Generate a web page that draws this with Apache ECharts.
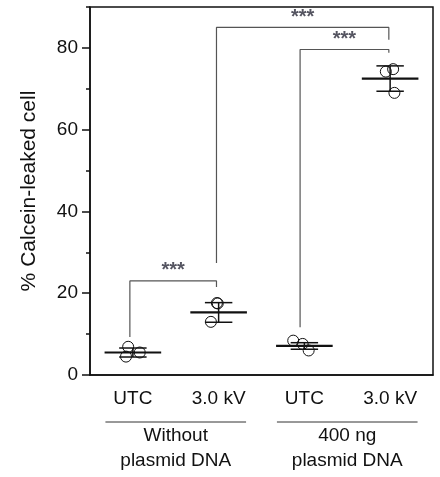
<!DOCTYPE html>
<html><head><meta charset="utf-8">
<script src="https://cdn.jsdelivr.net/npm/echarts@6/dist/echarts.min.js"></script>
<style>html,body{margin:0;padding:0;background:#fff}#c{width:440px;height:477px}</style>
</head><body><div id="c"></div>
<script>
// ---- data ----
const categories = ['UTC', '3.0 kV', 'UTC', '3.0 kV'];
const groups = ['Without\nplasmid DNA', '400 ng\nplasmid DNA'];
const means = [5.5, 15.3, 7.1, 72.5];
const sds = [1.1, 2.4, 0.8, 3.1];
const pointValues = [[6.9, 4.5, 5.5], [17.6, 17.5, 13.0], [8.4, 7.6, 6.0], [74.2, 74.8, 69.0]];
const pointJitter = [[-0.055, -0.08, 0.08], [-0.02, -0.01, -0.09], [-0.13, -0.02, 0.05], [-0.05, 0.035, 0.05]];
const bracketFrom = [-0.035, 0.975, 1.95];
const bracketTo = [0.975, 2.985, 2.985];
const bracketTop = [23.0, 85.0, 79.6];
const bracketLeftEnd = [9.3, 27.4, 11.7];
const bracketRightEnd = [21.5, 82.0, 78.8];
const bracketLabels = ['***', '***', '***'];
const yName = '% Calcein-leaked cell';

const FONT = '"Liberation Sans", Arial, sans-serif';
const INK = '#111';

const chart = echarts.init(document.getElementById('c'), null, {renderer: 'canvas'});

const scatterData = [];
pointValues.forEach((vals, i) => vals.forEach((v, j) => scatterData.push([i + pointJitter[i][j], v])));

const bracketSeries = bracketFrom.map((f, k) => ({
  type: 'line', xAxisIndex: 2, yAxisIndex: 0, symbol: 'none', silent: true,
  data: [[f, bracketLeftEnd[k]], [f, bracketTop[k]], [bracketTo[k], bracketTop[k]], [bracketTo[k], bracketRightEnd[k]]],
  lineStyle: {color: '#555', width: 1.2}, z: 3
}));

const starSeries = {
  type: 'scatter', xAxisIndex: 2, yAxisIndex: 0, symbolSize: 0, silent: true,
  data: bracketFrom.map((f, k) => [(f + bracketTo[k]) / 2, bracketTop[k]]),
  label: {
    show: true, position: 'top', distance: 0,
    formatter: p => bracketLabels[p.dataIndex],
    fontSize: 20, fontWeight: 'bold', color: '#2a2a3a', fontFamily: FONT
  }
};

const option = {
  animation: false,
  backgroundColor: '#fff',
  grid: {left: 90, right: 7, top: 7, bottom: 102, show: true, borderColor: INK, borderWidth: 1.5, outerBoundsMode: 'none'},
  xAxis: [
    {
      type: 'category', data: categories, position: 'bottom', boundaryGap: true,
      axisLine: {onZero: false, lineStyle: {color: INK, width: 1.5}},
      axisTick: {alignWithLabel: true, length: 6, lineStyle: {color: INK, width: 1.5}},
      axisLabel: {fontSize: 19, color: INK, margin: 14, interval: 0, fontFamily: FONT},
      splitLine: {show: false}
    },
    {
      type: 'category', data: groups, position: 'bottom', offset: 0,
      axisLine: {show: false, onZero: false}, axisTick: {show: false},
      axisLabel: {fontSize: 19, lineHeight: 25, color: INK, margin: 48, interval: 0, fontFamily: FONT},
      splitLine: {show: false}
    },
    {type: 'value', min: -0.5, max: 3.5, show: false, position: 'top', axisLine: {onZero: false}, splitLine: {show: false}}
  ],
  yAxis: [
    {
      type: 'value', min: 0, max: 90, interval: 20, position: 'left', offset: 0,
      name: yName, nameLocation: 'middle', nameGap: 50,
      nameTextStyle: {fontSize: 21, color: INK, fontFamily: FONT},
      axisLine: {show: true, onZero: false, lineStyle: {color: INK, width: 1.5}},
      axisTick: {show: true, length: 8, lineStyle: {color: INK, width: 1.5}},
      axisLabel: {fontSize: 19, color: INK, margin: 12, showMaxLabel: false, fontFamily: FONT},
      splitLine: {show: false}
    },
    {
      type: 'value', min: 0, max: 90, interval: 10, position: 'left', offset: 0,
      axisLine: {show: false, onZero: false},
      axisTick: {show: true, length: 4, lineStyle: {color: INK, width: 1.5}},
      axisLabel: {show: false}, splitLine: {show: false}
    }
  ],
  series: [
    {
      type: 'custom', xAxisIndex: 2, yAxisIndex: 0, silent: true, z: 4,
      data: means.map((m, i) => [i, m, sds[i]]),
      renderItem: (params, api) => {
        const x = api.value(0), m = api.value(1), s = api.value(2);
        const w = api.size([1, 0])[0];
        const c = api.coord([x, m]), t = api.coord([x, m + s]), b = api.coord([x, m - s]);
        const st = {stroke: INK, lineWidth: 1.5};
        return {type: 'group', children: [
          {type: 'line', shape: {x1: c[0] - 0.33 * w, y1: c[1], x2: c[0] + 0.33 * w, y2: c[1]}, style: {stroke: INK, lineWidth: 2.2}},
          {type: 'line', shape: {x1: t[0], y1: t[1], x2: b[0], y2: b[1]}, style: st},
          {type: 'line', shape: {x1: t[0] - 0.16 * w, y1: t[1], x2: t[0] + 0.16 * w, y2: t[1]}, style: st},
          {type: 'line', shape: {x1: b[0] - 0.16 * w, y1: b[1], x2: b[0] + 0.16 * w, y2: b[1]}, style: st}
        ]};
      }
    },
    {
      type: 'scatter', xAxisIndex: 2, yAxisIndex: 0, z: 5, silent: true,
      data: scatterData, symbol: 'circle', symbolSize: 11,
      itemStyle: {color: 'rgba(255,255,255,0)', borderColor: INK, borderWidth: 1, opacity: 1}
    },
    ...bracketSeries,
    starSeries
  ]
};
chart.setOption(option);

// underline between the condition labels and the group labels
const y0 = chart.convertToPixel({yAxisIndex: 0}, 0);
const lineY = y0 + 47;
chart.setOption({
  graphic: groups.map((g, k) => {
    const cx = 2 * k + 0.5;
    const x1 = chart.convertToPixel({xAxisIndex: 2}, cx - 0.82);
    const x2 = chart.convertToPixel({xAxisIndex: 2}, cx + 0.82);
    return {type: 'line', shape: {x1: x1, y1: lineY, x2: x2, y2: lineY}, style: {stroke: '#333', lineWidth: 1}, silent: true};
  })
});
</script>
</body></html>
